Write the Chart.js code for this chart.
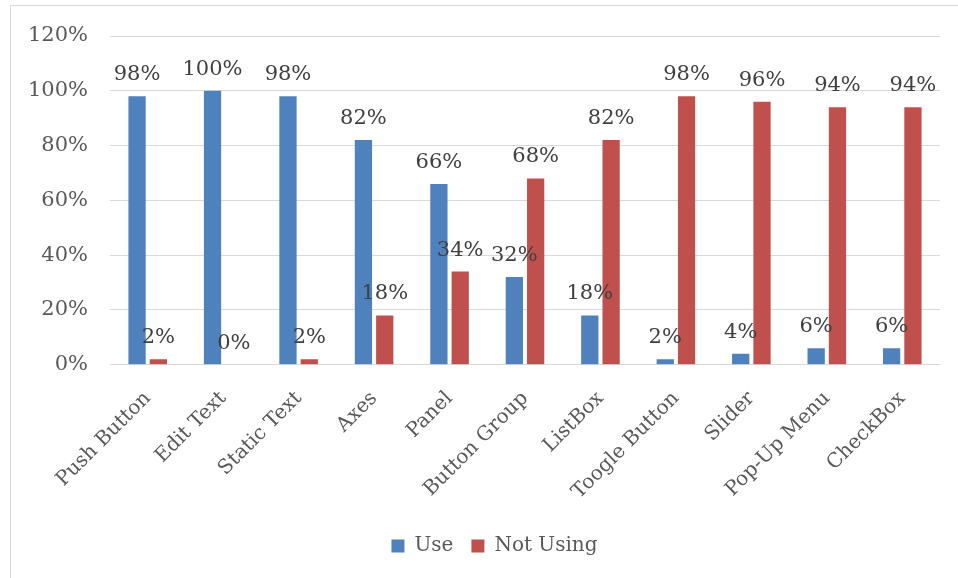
<!DOCTYPE html>
<html>
<head>
<meta charset="utf-8">
<script src="https://cdn.jsdelivr.net/npm/chart.js@4.4.0/dist/chart.umd.min.js"></script>
<style>
  html,body{margin:0;padding:0;background:#fff;overflow:hidden;}
  #box{position:absolute;left:10px;top:5px;width:960px;height:590px;border:1px solid #d9d9d9;box-sizing:border-box;}
  #wrap{position:absolute;left:0;top:0;width:948px;height:573px;}
</style>
</head>
<body>
<div id="box"><div id="wrap"><canvas id="c"></canvas></div></div>
<script>
const categories = ["Push Button","Edit Text","Static Text","Axes","Panel","Button Group","ListBox","Toogle Button","Slider","Pop-Up Menu","CheckBox"];
const useValues = [98,100,98,82,66,32,18,2,4,6,6];
const notUsingValues = [2,0,2,18,34,68,82,98,96,94,94];
const yTicks = [0,20,40,60,80,100,120];

const FONT = "'DejaVu Serif'";
const TXT = '#595959';

const barLabels = {
  id:'barLabels',
  afterLayout(chart){
    if (chart.legend) { chart.legend.left += 19; chart.legend.right += 19; }
  },
  afterDatasetsDraw(chart){
    const ctx = chart.ctx;
    ctx.save();
    ctx.font = '21px ' + FONT;
    ctx.fillStyle = '#404040';
    ctx.textAlign = 'center';
    ctx.textBaseline = 'alphabetic';
    chart.data.datasets.forEach((ds,i)=>{
      const meta = chart.getDatasetMeta(i);
      meta.data.forEach((bar,j)=>{
        ctx.fillText(ds.data[j] + '%', bar.x, bar.y - 16);
      });
    });
    ctx.restore();
  }
};

new Chart(document.getElementById('c'),{
  type:'bar',
  data:{
    labels:categories,
    datasets:[
      {label:'Use',data:useValues,backgroundColor:'#4F81BD',categoryPercentage:0.565,barPercentage:0.81},
      {label:'Not Using',data:notUsingValues,backgroundColor:'#C0504D',categoryPercentage:0.565,barPercentage:0.81}
    ]
  },
  options:{
    responsive:true,
    maintainAspectRatio:false,
    animation:false,
    layout:{padding:{top:30,right:19,left:0,bottom:13}},
    plugins:{
      legend:{
        position:'bottom',
        labels:{boxWidth:13,boxHeight:13,color:TXT,font:{family:FONT,size:20},padding:18}
      },
      tooltip:{enabled:false}
    },
    scales:{
      x:{
        grid:{display:false},
        border:{color:'#d9d9d9',width:1},
        ticks:{color:TXT,font:{family:FONT,size:20},minRotation:45,maxRotation:45,padding:14,autoSkip:false}
      },
      y:{
        min:0,max:120,
        afterFit(s){ s.width = 99; s.paddingTop = 0; s.paddingBottom = 0; },
        afterBuildTicks(s){ s.ticks = yTicks.map(v=>({value:v})); },
        grid:{color:'#d9d9d9',lineWidth:1,drawTicks:false},
        border:{display:false},
        ticks:{color:TXT,font:{family:FONT,size:21},padding:22,callback:v=>v+'%'}
      }
    }
  },
  plugins:[barLabels]
});
</script>
</body>
</html>
